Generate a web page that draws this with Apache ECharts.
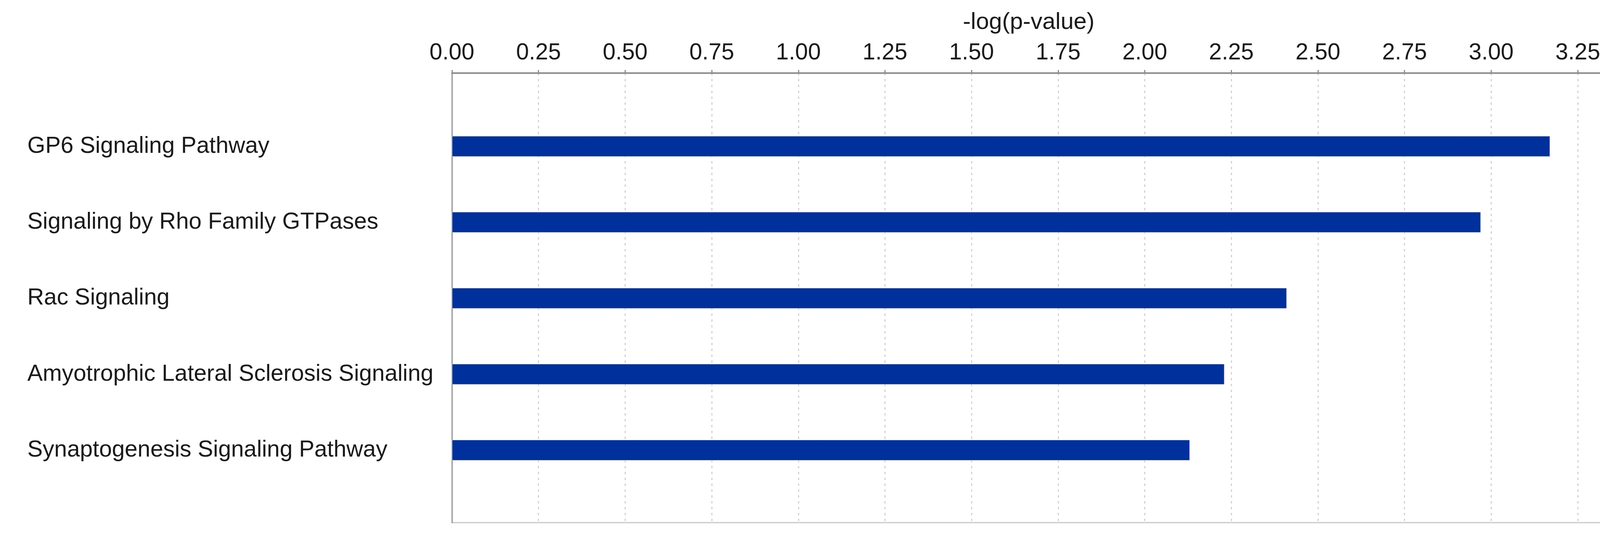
<!DOCTYPE html>
<html>
<head>
<meta charset="utf-8">
<script src="https://cdn.jsdelivr.net/npm/echarts@6/dist/echarts.min.js"></script>
<style>
html, body { margin: 0; padding: 0; background: #ffffff; overflow: hidden; }
#chart { width: 4135px; height: 1384px; }
</style>
</head>
<body>
<div id="chart"></div>
<script>
// Data
const categories = [
  'GP6 Signaling Pathway',
  'Signaling by Rho Family GTPases',
  'Rac Signaling',
  'Amyotrophic Lateral Sclerosis Signaling',
  'Synaptogenesis Signaling Pathway'
];
const values = [3.17, 2.97, 2.41, 2.23, 2.13];
const xTickValues = [0, 0.25, 0.5, 0.75, 1, 1.25, 1.5, 1.75, 2, 2.25, 2.5, 2.75, 3, 3.25];
const axisTitle = '-log(p-value)';
const xMin = 0, xMax = 3.33;

// Padding slots above and below so bars sit on evenly spaced lines
const yData = [''].concat(categories, ['']);
const barData = [null].concat(values, [null]);

const FONT = 'Liberation Sans';
const chart = echarts.init(document.getElementById('chart'), null, { renderer: 'canvas' });
chart.setOption({
  backgroundColor: '#ffffff',
  animation: false,
  grid: [
    { // frame + visible value axis
      left: 1157, right: 25, top: 187, bottom: 47,
      show: true, borderColor: '#c8c8c8', borderWidth: 3, backgroundColor: '#ffffff'
    },
    { // category layout for bars and labels
      left: 1157, right: 25, top: 180, bottom: 38, show: false
    }
  ],
  xAxis: [{
    gridIndex: 0,
    type: 'value',
    position: 'top',
    min: xMin,
    max: xMax,
    interval: 0.25,
    name: axisTitle,
    nameLocation: 'middle',
    nameGap: 100,
    nameTextStyle: { fontFamily: FONT, fontSize: 60, color: '#1a1a1a' },
    axisLine: { show: true, onZero: false, lineStyle: { color: '#8c8c8c', width: 4 } },
    axisTick: { show: true, length: 8, customValues: xTickValues, lineStyle: { color: '#8c8c8c', width: 3 } },
    axisLabel: {
      customValues: xTickValues,
      showMaxLabel: true,
      showMinLabel: true,
      formatter: v => v.toFixed(2),
      fontFamily: FONT, fontSize: 59, color: '#1a1a1a', margin: 22
    },
    splitLine: { show: true, lineStyle: { color: '#d2d2d2', width: 3, type: [6, 9] } }
  }, {
    gridIndex: 1,
    type: 'value',
    position: 'top',
    min: xMin,
    max: xMax,
    show: false,
    splitLine: { show: false }
  }],
  yAxis: [{
    gridIndex: 0,
    type: 'value',
    min: 0,
    max: 1,
    axisLine: { show: true, onZero: false, lineStyle: { color: '#9a9a9a', width: 3 } },
    axisTick: { show: false },
    axisLabel: { show: false },
    splitLine: { show: false }
  }, {
    gridIndex: 1,
    type: 'category',
    inverse: true,
    boundaryGap: false,
    data: yData,
    axisLine: { show: false },
    axisTick: { show: false },
    splitLine: { show: false },
    axisLabel: {
      align: 'left',
      margin: 1087,
      fontFamily: FONT, fontSize: 59, color: '#1a1a1a',
      interval: 0
    }
  }],
  series: [{
    type: 'bar',
    xAxisIndex: 1,
    yAxisIndex: 1,
    data: barData,
    barWidth: 53,
    z: 3,
    itemStyle: { color: '#00309c', borderColor: '#e2dccf', borderWidth: 1 }
  }]
});
</script>
</body>
</html>
